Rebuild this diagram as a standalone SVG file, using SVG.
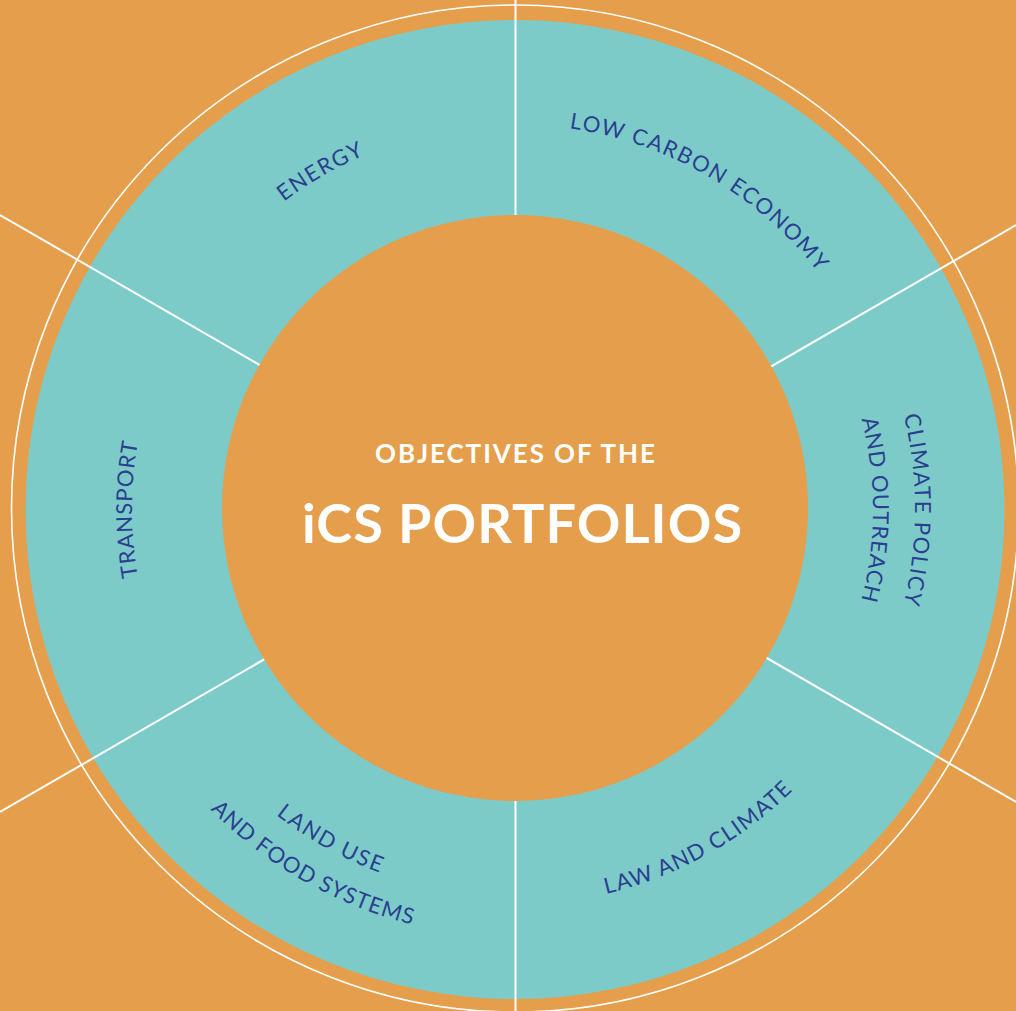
<svg xmlns="http://www.w3.org/2000/svg" width="1016" height="1011" viewBox="0 0 1016 1011">
  <style>
    .bg { fill: #E59E4B; }
    .ring { fill: #7DCBC9; }
    .hub { fill: #E59E4B; }
    .outline { fill: none; stroke: #FFFFFF; stroke-width: 1.6; }
    .spoke { stroke: #FFFFFF; stroke-width: 2; fill: none; }
    .label { font-family: Lato, "Noto Sans", "DejaVu Sans", sans-serif; font-size: 22px; fill: #2B3F8F; }
    .title { font-family: Lato, "Noto Sans", "DejaVu Sans", sans-serif; font-weight: 700; fill: #FFFFFF; text-anchor: middle; }
  </style>
  <defs>
    <!-- baseline arcs, centre (515, 509.5) -->
    <path id="arc-energy" d="M181.6,317 A385,385 0 0 1 515,124.5"/>
    <path id="arc-lowcarbon" d="M515,124.5 A385,385 0 0 1 848.4,317"/>
    <path id="arc-policy-1" d="M861.4,309.5 A400,400 0 0 1 861.4,709.5"/>
    <path id="arc-policy-2" d="M825,330.5 A358,358 0 0 1 825,688.5"/>
    <path id="arc-transport" d="M183.3,701 A383,383 0 0 1 183.3,318"/>
    <path id="arc-law" d="M439.6,897.2 A395,395 0 0 0 883.8,651.1"/>
    <path id="arc-land-1" d="M152.6,646.8 A387.5,387.5 0 0 0 587.3,890.2"/>
    <path id="arc-land-2" d="M114,657.8 A427.5,427.5 0 0 0 591.4,930.1"/>
  </defs>

  <rect class="bg" x="0" y="0" width="1016" height="1011"/>
  <circle class="outline" cx="515" cy="508.5" r="503.5"/>
  <circle class="ring" cx="515" cy="509.5" r="489.5"/>

  <g id="connectors">
    <line class="spoke" x1="515.5" y1="0" x2="515.5" y2="1011"/>
    <line class="spoke" x1="0" y1="215" x2="1016" y2="802"/>
    <line class="spoke" x1="0" y1="812" x2="1016" y2="225"/>
  </g>

  <g id="hub">
    <circle class="hub" cx="515" cy="508" r="293"/>
    <text class="title" x="515" y="463" font-size="26" textLength="280" lengthAdjust="spacing">OBJECTIVES OF THE</text>
    <text class="title" x="522" y="543" font-size="54" textLength="440" lengthAdjust="spacing">iCS PORTFOLIOS</text>
  </g>

  <g id="energy">
    <text class="label"><textPath href="#arc-energy" startOffset="50%" text-anchor="middle" textLength="93" lengthAdjust="spacing">ENERGY</textPath></text>
  </g>
  <g id="low-carbon-economy">
    <text class="label"><textPath href="#arc-lowcarbon" startOffset="50%" text-anchor="middle" textLength="294" lengthAdjust="spacing">LOW CARBON ECONOMY</textPath></text>
  </g>
  <g id="climate-policy">
    <text class="label"><textPath href="#arc-policy-1" startOffset="50%" text-anchor="middle" textLength="190" lengthAdjust="spacing">CLIMATE POLICY</textPath></text>
    <text class="label"><textPath href="#arc-policy-2" startOffset="50%" text-anchor="middle" textLength="183" lengthAdjust="spacing">AND OUTREACH</textPath></text>
  </g>
  <g id="law-and-climate">
    <text class="label"><textPath href="#arc-law" startOffset="50%" text-anchor="middle" textLength="216" lengthAdjust="spacing">LAW AND CLIMATE</textPath></text>
  </g>
  <g id="land-use">
    <text class="label"><textPath href="#arc-land-1" startOffset="50%" text-anchor="middle" textLength="119" lengthAdjust="spacing">LAND USE</textPath></text>
    <text class="label"><textPath href="#arc-land-2" startOffset="50%" text-anchor="middle" textLength="235" lengthAdjust="spacing">AND FOOD SYSTEMS</textPath></text>
  </g>
  <g id="transport">
    <text class="label"><textPath href="#arc-transport" startOffset="50%" text-anchor="middle" textLength="135" lengthAdjust="spacing">TRANSPORT</textPath></text>
  </g>
</svg>
